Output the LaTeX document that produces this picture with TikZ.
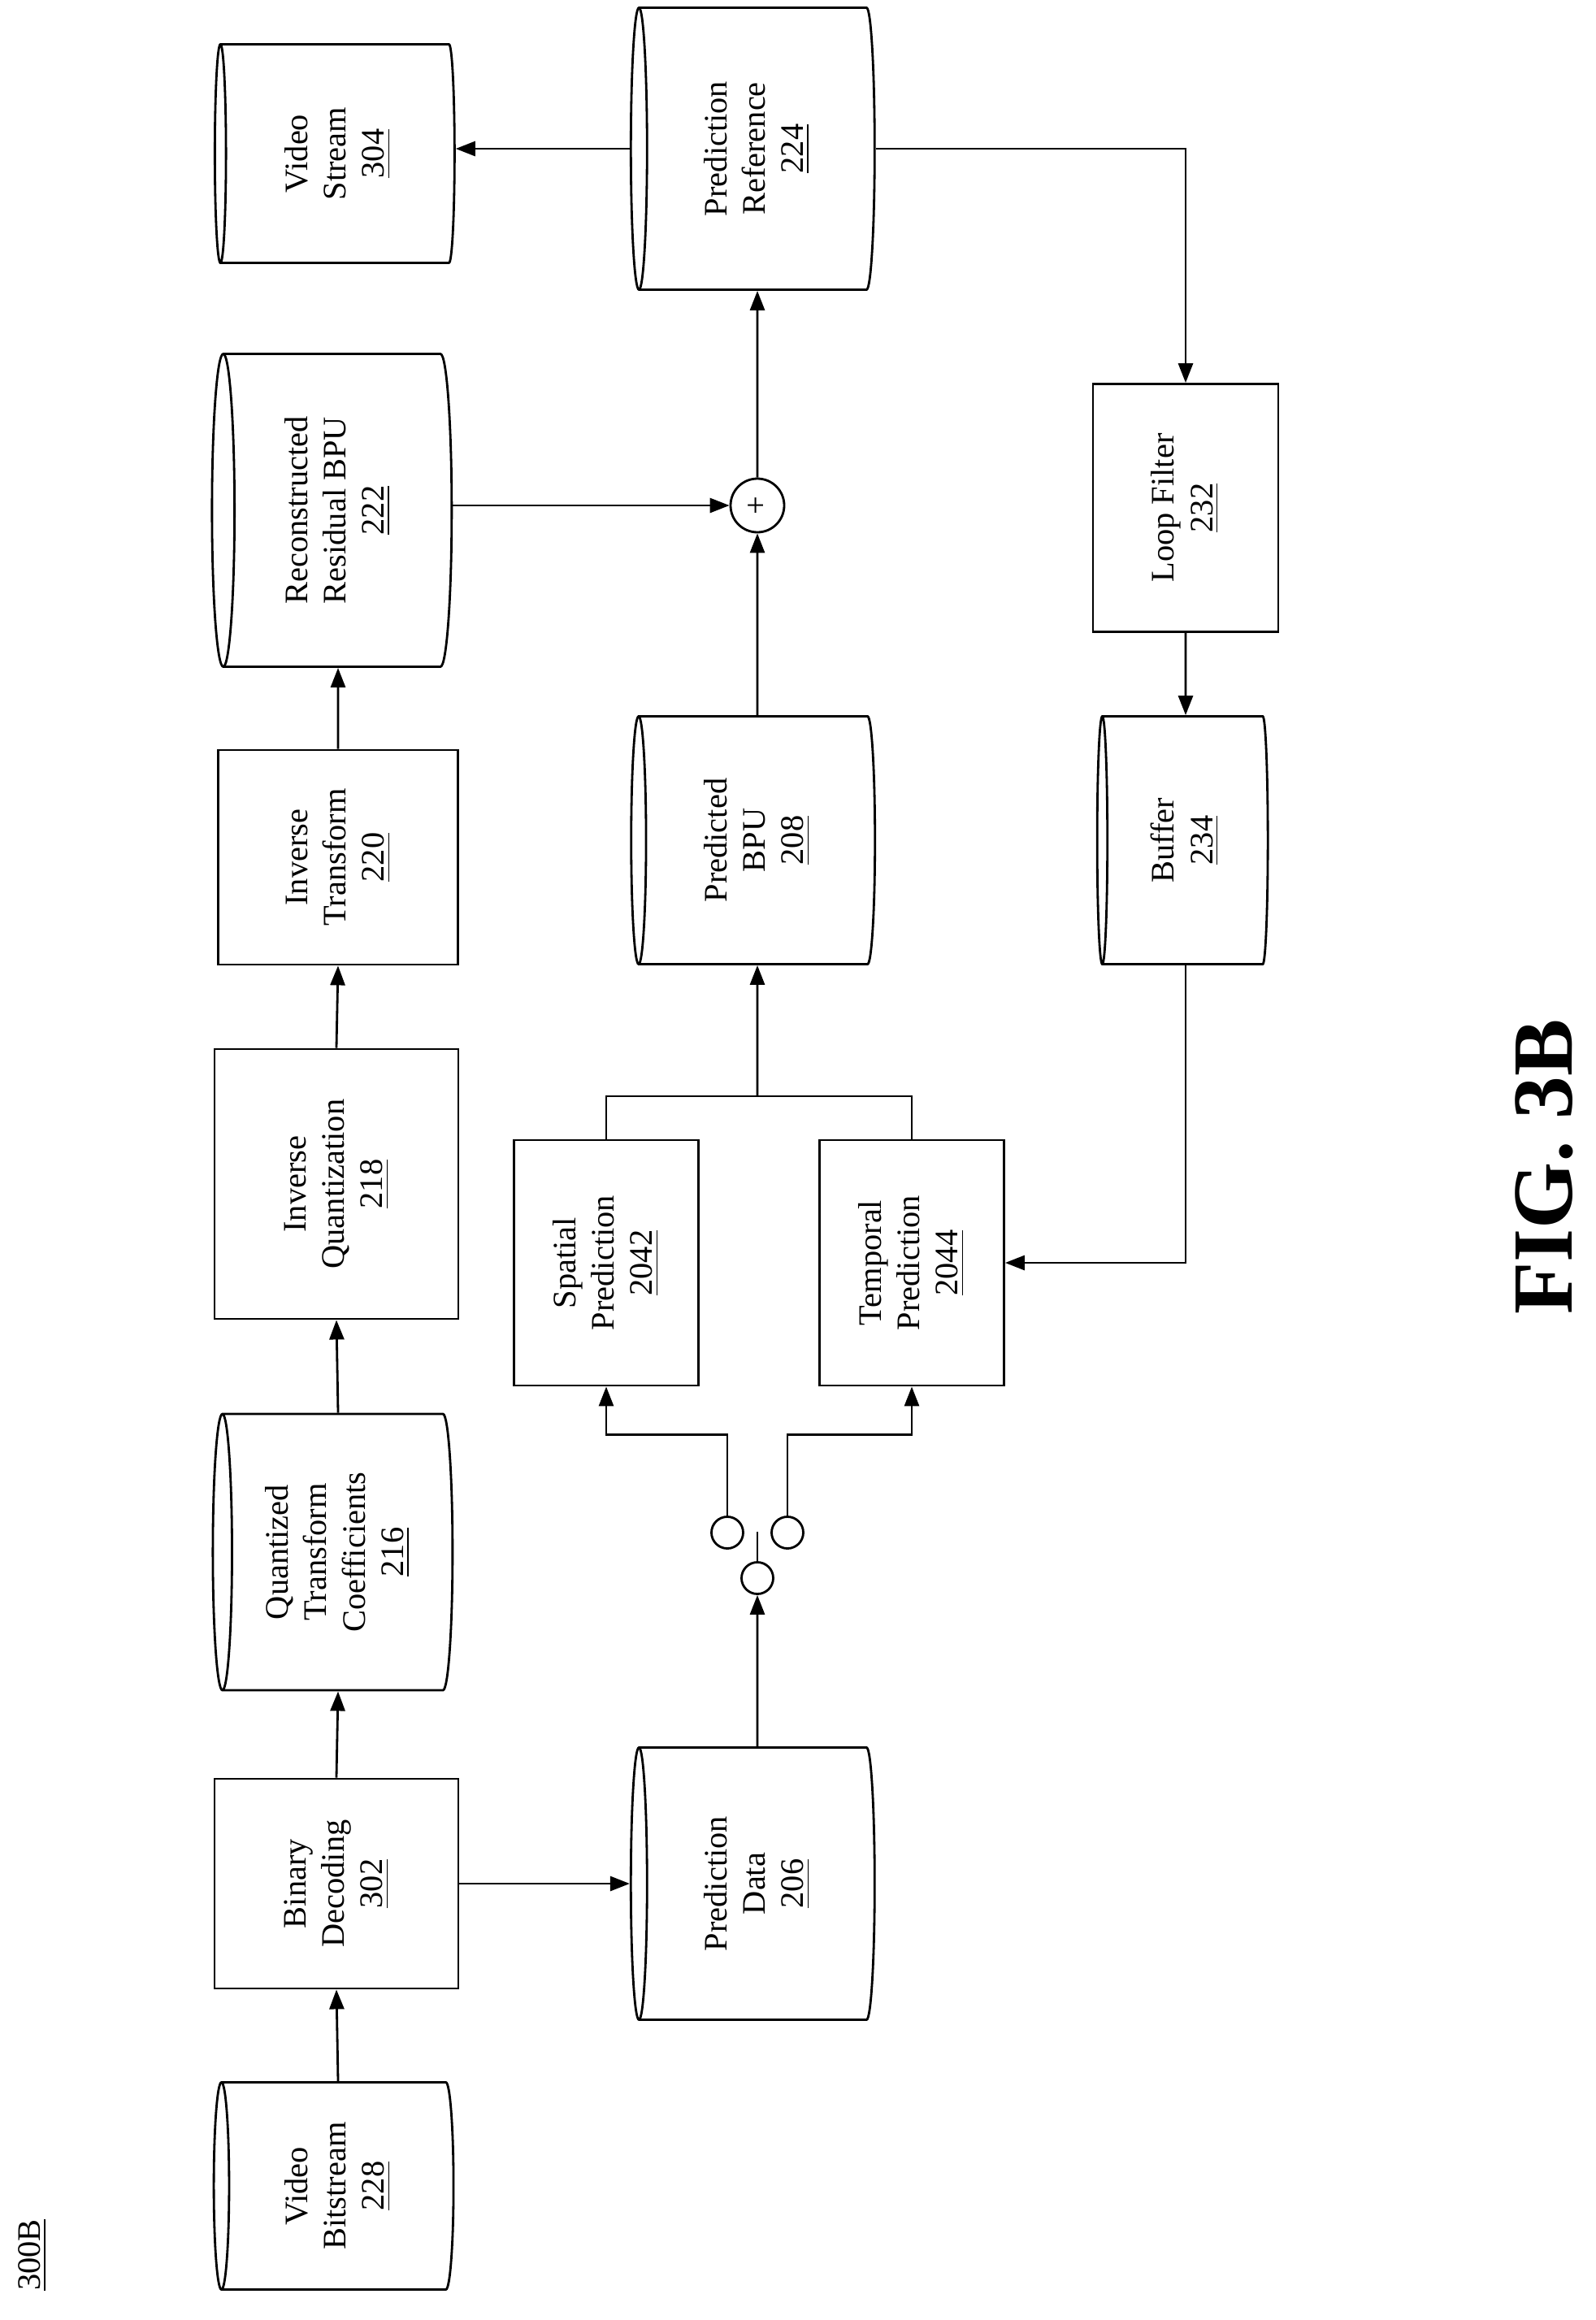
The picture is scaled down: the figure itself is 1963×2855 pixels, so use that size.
\documentclass[tikz,border=0pt]{standalone}
\usepackage{fontspec}
\setmainfont{Liberation Serif}
\usepackage{tikz}
\usetikzlibrary{positioning,shapes.geometric,arrows.meta}
\newcommand{\rt}[1]{\rotatebox{90}{\begin{tabular}{@{}c@{}}#1\end{tabular}}}
\begin{document}
\begin{tikzpicture}[x=0.1mm, y=-0.1mm, line width=0.8pt,
    font=\fontsize{11.5}{13.5}\selectfont,
    box/.style={draw, rectangle, inner sep=0pt},
    db/.style={draw, cylinder, shape border rotate=180, aspect=0.12, inner sep=0pt},
    pin/.style={draw, circle, minimum size=3.9mm, inner sep=0pt},
    arr/.style={-{Triangle[length=2.4mm,width=1.8mm]}}]
    \useasboundingbox (0,0) rectangle (1963,2855);
    % top row
    \node[db, minimum width=25.5mm, minimum height=29.5mm] (vbs) at (416,2690) {\rt{Video\\Bitstream\\\underline{228}}};
    \node[box, minimum width=30mm, minimum height=25.8mm] (bd) at (414,2318) {\rt{Binary\\Decoding\\\underline{302}}};
    \node[db, minimum width=34mm, minimum height=29.5mm] (qtc) at (416,1910) {\rt{Quantized\\Transform\\Coefficients\\\underline{216}}};
    \node[box, minimum width=30mm, minimum height=33.2mm] (iq) at (414,1457) {\rt{Inverse\\Quantization\\\underline{218}}};
    \node[box, minimum width=29.5mm, minimum height=26.4mm] (it) at (416,1055) {\rt{Inverse\\Transform\\\underline{220}}};
    \node[db, minimum width=38.5mm, minimum height=29.5mm] (rrb) at (416,628) {\rt{Reconstructed\\Residual BPU\\\underline{222}}};
    \node[db, minimum width=26.9mm, minimum height=29.5mm] (vs) at (416,189) {\rt{Video\\Stream\\\underline{304}}};
    % middle row
    \node[db, minimum width=33.5mm, minimum height=30mm] (pd) at (932,2318) {\rt{Prediction\\Data\\\underline{206}}};
    \node[pin] (sw) at (932,1942) {};
    \node[pin] (swa) at (895,1886) {};
    \node[pin] (swb) at (969,1886) {};
    \coordinate (blade) at (932,1885);
    \node[box, minimum width=22.7mm, minimum height=30.2mm] (sp) at (746,1554) {\rt{Spatial\\Prediction\\\underline{2042}}};
    \node[box, minimum width=22.7mm, minimum height=30.2mm] (tp) at (1122,1554) {\rt{Temporal\\Prediction\\\underline{2044}}};
    \coordinate (br) at (932,1349);
    \node[db, minimum width=30.5mm, minimum height=30mm] (pbpu) at (932,1034) {\rt{Predicted\\BPU\\\underline{208}}};
    \node[draw, circle, minimum size=6.6mm, inner sep=0pt] (sum) at (932,622) {\rotatebox{90}{+}};
    \node[db, minimum width=34.7mm, minimum height=30mm] (pr) at (932,183) {\rt{Prediction\\Reference\\\underline{224}}};
    % bottom row
    \node[box, minimum width=22.8mm, minimum height=30.5mm] (lf) at (1459,625) {\rt{Loop Filter\\\underline{232}}};
    \node[db, minimum width=30.5mm, minimum height=21mm] (buf) at (1459,1034) {\rt{Buffer\\\underline{234}}};
    % labels
    \node[rotate=90] (lbl) at (40,2775) {\underline{300B}};
    \node[rotate=90, font=\fontsize{30}{30}\selectfont\bfseries] (fig) at (1900,1436) {FIG. 3B};
    % connectors
    \draw[arr] (vbs.north) -- (bd.south);
    \draw[arr] (bd.north) -- (qtc.south);
    \draw[arr] (qtc.north) -- (iq.south);
    \draw[arr] (iq.north) -- (it.south);
    \draw[arr] (it.north) -- (rrb.south);
    \draw[arr] (bd.east) -- (pd.west |- bd.east);
    \draw[arr] (pd.north) -- (sw.south);
    \draw (sw.north) -- (blade);
    \draw[arr] (swa.north) |- ++(0,-100) -| (sp.south);
    \draw[arr] (swb.north) |- ++(0,-100) -| (tp.south);
    \draw (sp.north) -- (sp.north |- br) -- (tp.north |- br) -- (tp.north);
    \draw[arr] (br) -- (pbpu.south);
    \draw[arr] (pbpu.north) -- (sum.south);
    \draw[arr] (rrb.east |- sum.west) -- (sum.west);
    \draw[arr] (sum.north) -- (pr.south);
    \draw[arr] (pr.west) -- (vs.east |- pr.west);
    \draw[arr] (pr.east) -| (lf.north);
    \draw[arr] (lf.south) -- (buf.north);
    \draw[arr] (buf.south) |- (tp.east);
\end{tikzpicture}
\end{document}
